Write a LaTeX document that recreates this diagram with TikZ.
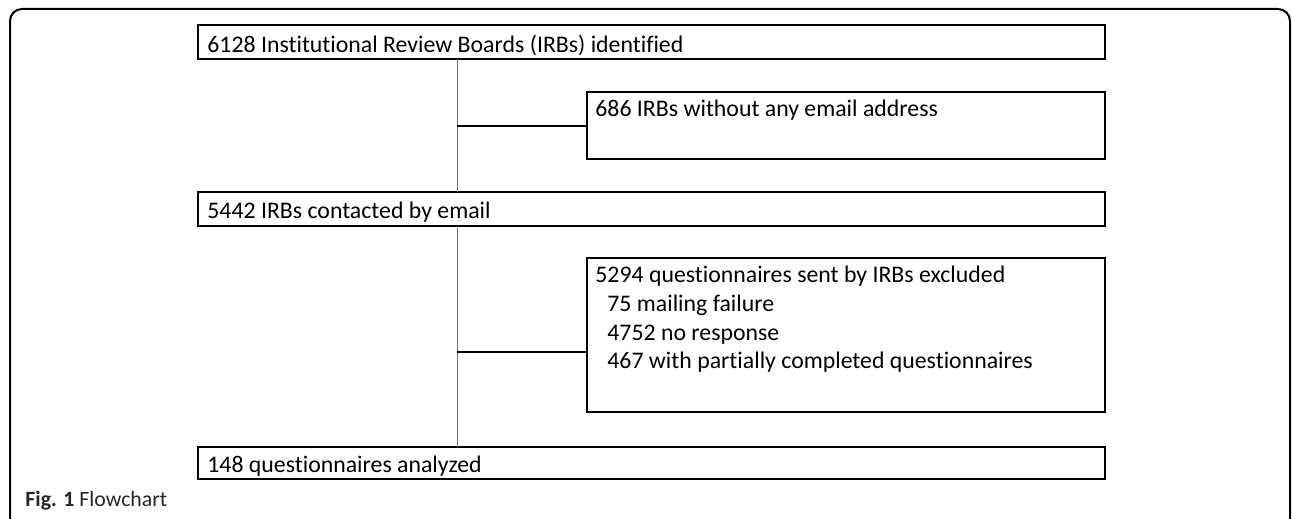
\documentclass[tikz,border=0pt]{standalone}
\usepackage{fontspec}
\setmainfont[Ligatures=NoCommon]{Carlito}
\usepackage{tikz}
\usetikzlibrary{calc}
\usetikzlibrary{positioning}
\tikzset{>=latex}
\tikzstyle{box} = [rectangle, draw=black, line width=0.9pt, anchor=north west, inner sep=0, outer sep=0]
\tikzstyle{txt} = [draw=none, anchor=base west, inner sep=0, font=\fontsize{11.9}{14}\selectfont]
\tikzstyle{trunk} = [-, draw=black!55, line width=0.5pt]
\tikzstyle{link} = [-, draw=black, line width=0.8pt]

\begin{document}
\begin{tikzpicture}[x=0.5pt, y=-0.5pt]
\useasboundingbox (0,0) rectangle (1292,519);
\begin{scope}
\clip (0,0) rectangle (1292,519);
\draw [line width=1pt, rounded corners=6pt] (10,9) rectangle (1290,530);
\end{scope}

% boxes
\node [box, minimum width=453.5pt, minimum height=17pt] (ident) at (198,25) {};
\node [box, minimum width=259pt, minimum height=33.5pt] (noemail) at (587,92) {};
\node [box, minimum width=453.5pt, minimum height=17pt] (contact) at (198,192) {};
\node [box, minimum width=259pt, minimum height=77pt] (excl) at (587,258) {};
\node [box, minimum width=453.5pt, minimum height=16pt] (anal) at (198,447) {};

% texts
\node [txt] (identtxt) at (207,53) {6128 Institutional Review Boards (IRBs) identified};
\node [txt] (noemailtxt) at (595,117) {686 IRBs without any email address};
\node [txt] (contacttxt) at (207,219) {5442 IRBs contacted by email};
\node [txt] (excltxt) at (595,283) {5294 questionnaires sent by IRBs excluded};
\node [txt] (mailtxt) at (607,311.5) {75 mailing failure};
\node [txt] (resptxt) at (607,340) {4752 no response};
\node [txt] (parttxt) at (607,368.5) {467 with partially completed questionnaires};
\node [txt] (analtxt) at (207,472) {148 questionnaires analyzed};
\node [txt, font=\fontsize{10.9}{13}\selectfont, text=black!85] (caption) at (25,506) {\textbf{Fig. 1} Flowchart};

% connectors
\coordinate (split1) at (457,126);
\coordinate (split2) at (457,352);
\draw [trunk] (ident.south -| split1) -- (contact.north -| split1);
\draw [trunk] (contact.south -| split2) -- (anal.north -| split2);
\draw [link] (split1) -- (split1 -| noemail.west);
\draw [link] (split2) -- (split2 -| excl.west);
\end{tikzpicture}
\end{document}
